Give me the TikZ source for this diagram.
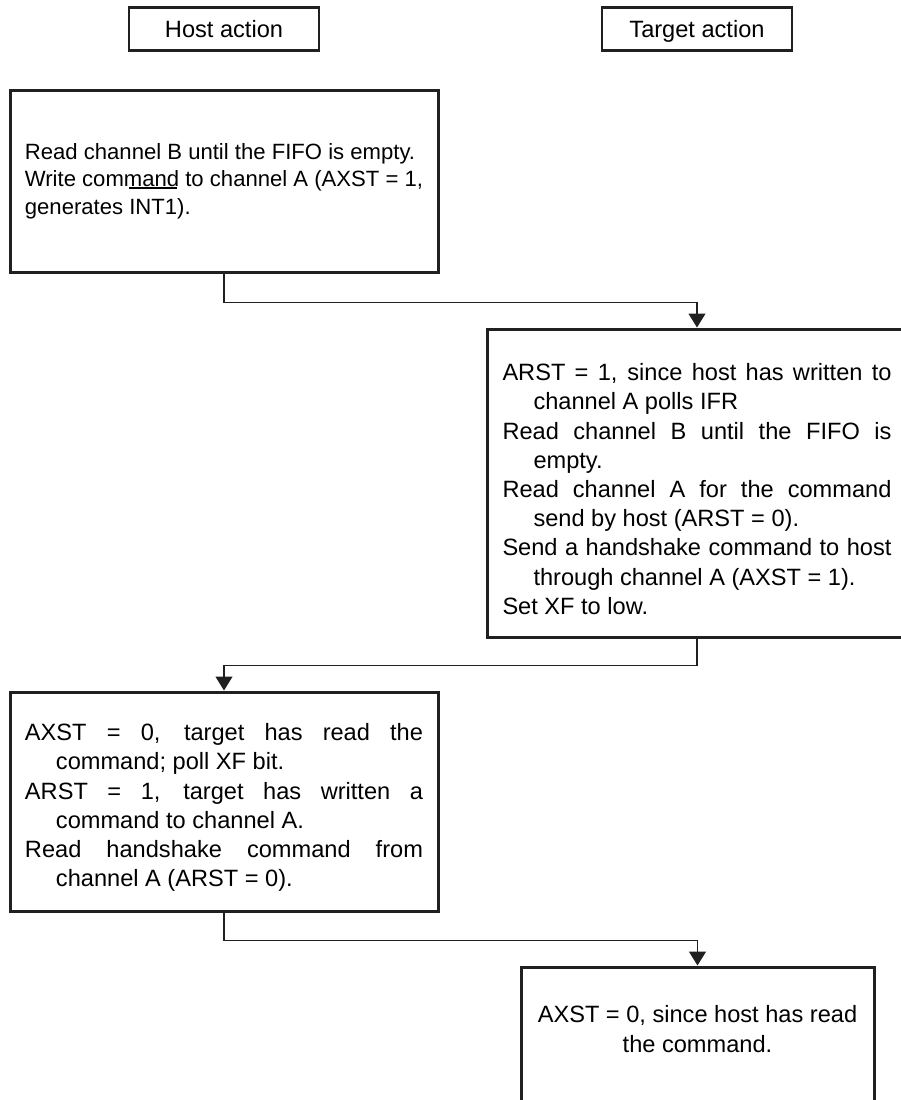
\documentclass[tikz,border=0pt]{standalone}
\usepackage{fontspec}
\setmainfont{Liberation Sans}
\usetikzlibrary{arrows.meta, positioning}
\definecolor{inkgray}{rgb}{0.13, 0.12, 0.12}

% one entry with a hanging second line
\newcommand{\hangline}[1]{\par\hangindent=15.5pt\hangafter=1 #1\par}
% signal name with a bar over it
\newsavebox{\barbox}
\newcommand{\barsig}[1]{\sbox{\barbox}{#1}\rlap{\smash{\rule[12.5pt]{\wd\barbox}{1pt}}}\usebox{\barbox}}

\begin{document}
\begin{tikzpicture}[
    x=0.5pt, y=-0.5pt,
    head/.style={rectangle, draw=inkgray, line width=1.4pt, minimum width=95pt, minimum height=21.5pt, inner sep=0pt, text height=9.5pt, text depth=1.5pt, font=\fontsize{11.8}{14.6}\selectfont},
    task/.style={rectangle, draw=inkgray, line width=1.5pt, inner sep=0pt, font=\fontsize{11.8}{14.6}\selectfont},
    flow/.style={-{Triangle[width=8.5pt,length=7pt]}, line width=0.6pt, draw=inkgray}
]
\clip (0,0) rectangle (901,1100);

% Column heads
\node[head] (hosthead) at (224,29) {Host action};
\node[head] (targethead) at (697,29) {Target action};

% Steps
\node[task, minimum width=214pt, minimum height=91pt, align=left, font=\fontsize{11.05}{13.8}\selectfont] (host1) at (224,181)
  {Read channel B until the FIFO is empty.\\Write command to channel A (AXST = 1,\\generates \barsig{INT1}).};

\node[task, minimum width=210pt, minimum height=154pt, text width=194.5pt, align=justify] (target1) at (697,483)
  {\hangline{ARST = 1, since host has written to\linebreak channel A polls IFR}
   \hangline{Read channel B until the FIFO is\linebreak empty.}
   \hangline{Read channel A for the command\linebreak send by host (ARST = 0).}
   \hangline{Send a handshake command to host\linebreak through channel A (AXST = 1).}
   \hangline{Set XF to low.}};

\node[task, minimum width=214pt, minimum height=109.5pt, text width=199pt, align=justify] (host2) at (224,801.5)
  {\hangline{AXST = 0, target has read the\linebreak command; poll XF bit.}
   \hangline{ARST = 1, target has written a\linebreak command to channel A.}
   \hangline{Read handshake command from\linebreak channel A (ARST = 0).}};

\node[task, minimum width=176.5pt, minimum height=86.5pt] (target2) at (697.5,1053.5) {};
\node[below=19.5pt of target2.north, align=center, inner sep=0pt, font=\fontsize{11.8}{15}\selectfont] (target2text)
  {AXST = 0, since host has read\\the command.};

% Connectors
\draw[flow] (host1.south) -- ++(0,29) -| (target1.north);
\draw[flow] (target1.south) -- ++(0,27) -| (host2.north);
\draw[flow] (host2.south) -- ++(0,28) -| (target2.north);

\end{tikzpicture}
\end{document}
